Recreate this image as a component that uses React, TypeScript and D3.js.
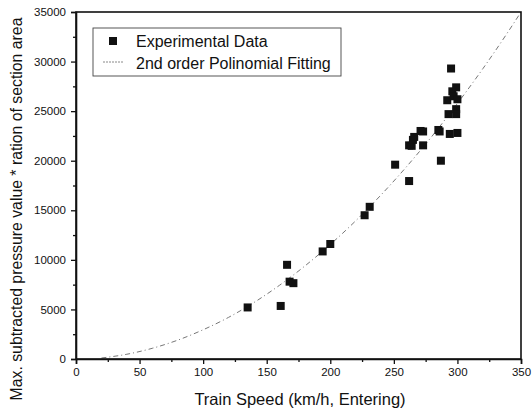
import React, { useEffect, useRef } from 'react';
import * as d3 from 'd3';

// Experimental data (train speed km/h, max subtracted pressure * section area ratio)
const speeds = [135, 161, 166, 168, 171, 194, 200, 227, 231, 251, 262, 262, 264, 265, 266, 271, 273, 273, 285, 286, 287, 292, 293, 294, 295, 296, 297, 299, 300, 299, 299, 300];
const pressures = [5200, 5350, 9500, 7800, 7650, 10850, 11600, 14500, 15350, 19600, 17950, 21550, 21500, 22100, 22400, 23000, 22950, 21550, 23100, 22950, 20000, 26100, 24700, 22700, 29300, 27000, 26500, 27400, 26200, 25200, 24700, 22800];

// 2nd order polynomial fit
const fitSpeeds = [20, 40, 60, 80, 100, 120, 140, 160, 180, 200, 220, 240, 260, 280, 300, 320, 340, 350];
const fitValues = [100, 480, 1080, 1900, 2950, 4200, 5700, 7430, 9380, 11550, 13940, 16560, 19400, 22470, 25780, 29280, 33030, 35000];

const xTicks = [0, 50, 100, 150, 200, 250, 300, 350];
const yTicks = [0, 5000, 10000, 15000, 20000, 25000, 30000, 35000];

const legendLabels = ['Experimental Data', '2nd order Polinomial Fitting'];

const App: React.FC = () => {
  const svgRef = useRef<SVGSVGElement>(null);

  useEffect(() => {
    if (!svgRef.current) return;
    const svg = d3.select(svgRef.current);
    svg.selectAll('*').remove();

    const width = 532;
    const height = 417;
    const margin = { left: 76, right: 11, top: 12, bottom: 58 };
    const font = 'Liberation Sans, Arial, sans-serif';

    const x = d3.scaleLinear().domain([0, 350]).range([margin.left, width - margin.right]);
    const y = d3.scaleLinear().domain([0, 35000]).range([height - margin.bottom, margin.top]);

    // fit curve
    const fit = fitSpeeds.map((s, i) => [s, fitValues[i]] as [number, number]);
    const line = d3.line<[number, number]>()
      .x(d => x(d[0]))
      .y(d => y(d[1]))
      .curve(d3.curveMonotoneX);
    svg.append('path')
      .attr('d', line(fit) || '')
      .attr('fill', 'none')
      .attr('stroke', '#777')
      .attr('stroke-width', 1)
      .attr('stroke-dasharray', '5,3,1,3');

    // points
    const size = 8;
    svg.selectAll('rect.pt')
      .data(speeds.map((s, i) => [s, pressures[i]]))
      .enter()
      .append('rect')
      .attr('class', 'pt')
      .attr('x', d => x(d[0]) - size / 2)
      .attr('y', d => y(d[1]) - size / 2)
      .attr('width', size)
      .attr('height', size)
      .attr('fill', '#111');

    // frame
    svg.append('rect')
      .attr('x', x(0))
      .attr('y', y(35000))
      .attr('width', x(350) - x(0))
      .attr('height', y(0) - y(35000))
      .attr('fill', 'none')
      .attr('stroke', '#111')
      .attr('stroke-width', 1.6);

    // bottom axis
    const xAxis = d3.axisBottom(x).tickValues(xTicks).tickSize(5).tickPadding(4).tickFormat(d3.format('d'));
    const gx = svg.append('g').attr('transform', `translate(0,${y(0)})`).call(xAxis);
    const xMinor = d3.axisBottom(x).tickValues(d3.range(25, 350, 50)).tickSize(3).tickFormat(() => '');
    svg.append('g').attr('transform', `translate(0,${y(0)})`).call(xMinor).select('.domain').remove();

    // left axis
    const yAxis = d3.axisLeft(y).tickValues(yTicks).tickSize(5).tickPadding(5).tickFormat(d3.format('d'));
    const gy = svg.append('g').attr('transform', `translate(${x(0)},0)`).call(yAxis);
    const yMinor = d3.axisLeft(y).tickValues(d3.range(2500, 35000, 5000)).tickSize(3).tickFormat(() => '');
    svg.append('g').attr('transform', `translate(${x(0)},0)`).call(yMinor).select('.domain').remove();

    [gx, gy].forEach(g => {
      g.select('.domain').attr('stroke-width', 1.6).attr('stroke', '#111');
      g.selectAll('text').attr('font-family', font).attr('font-size', 11.5).attr('fill', '#111');
    });
    svg.selectAll('.tick line').attr('stroke', '#111').attr('stroke-width', 1.3);

    // axis titles
    svg.append('text')
      .attr('x', 300)
      .attr('y', 405)
      .attr('text-anchor', 'middle')
      .attr('font-family', font)
      .attr('font-size', 16.5)
      .attr('fill', '#111')
      .text('Train Speed (km/h, Entering)');

    svg.append('text')
      .attr('transform', 'translate(18,209) rotate(-90)')
      .attr('text-anchor', 'middle')
      .attr('dominant-baseline', 'middle')
      .attr('font-family', font)
      .attr('font-size', 15.8)
      .attr('fill', '#111')
      .text('Max. subtracted pressure value * ration of section area');

    // legend
    const lg = svg.append('g');
    lg.append('rect')
      .attr('x', 93)
      .attr('y', 28)
      .attr('width', 248)
      .attr('height', 48)
      .attr('fill', 'white')
      .attr('stroke', '#444')
      .attr('stroke-width', 0.9);
    lg.append('rect')
      .attr('x', 113 - 4)
      .attr('y', 41 - 4)
      .attr('width', 8)
      .attr('height', 8)
      .attr('fill', '#111');
    lg.append('line')
      .attr('x1', 103)
      .attr('x2', 124)
      .attr('y1', 62)
      .attr('y2', 62)
      .attr('stroke', '#888')
      .attr('stroke-width', 1)
      .attr('stroke-dasharray', '2,1');
    lg.selectAll('text.lbl')
      .data(legendLabels)
      .enter()
      .append('text')
      .attr('class', 'lbl')
      .attr('x', 136)
      .attr('y', (_, i) => 47 + i * 21.5)
      .attr('font-family', font)
      .attr('font-size', 16)
      .attr('fill', '#111')
      .text(d => d);
  }, []);

  return (
    <svg
      ref={svgRef}
      width={532}
      height={417}
      style={{ position: 'absolute', left: 0, top: 0, background: 'white' }}
    />
  );
};

export default App;
